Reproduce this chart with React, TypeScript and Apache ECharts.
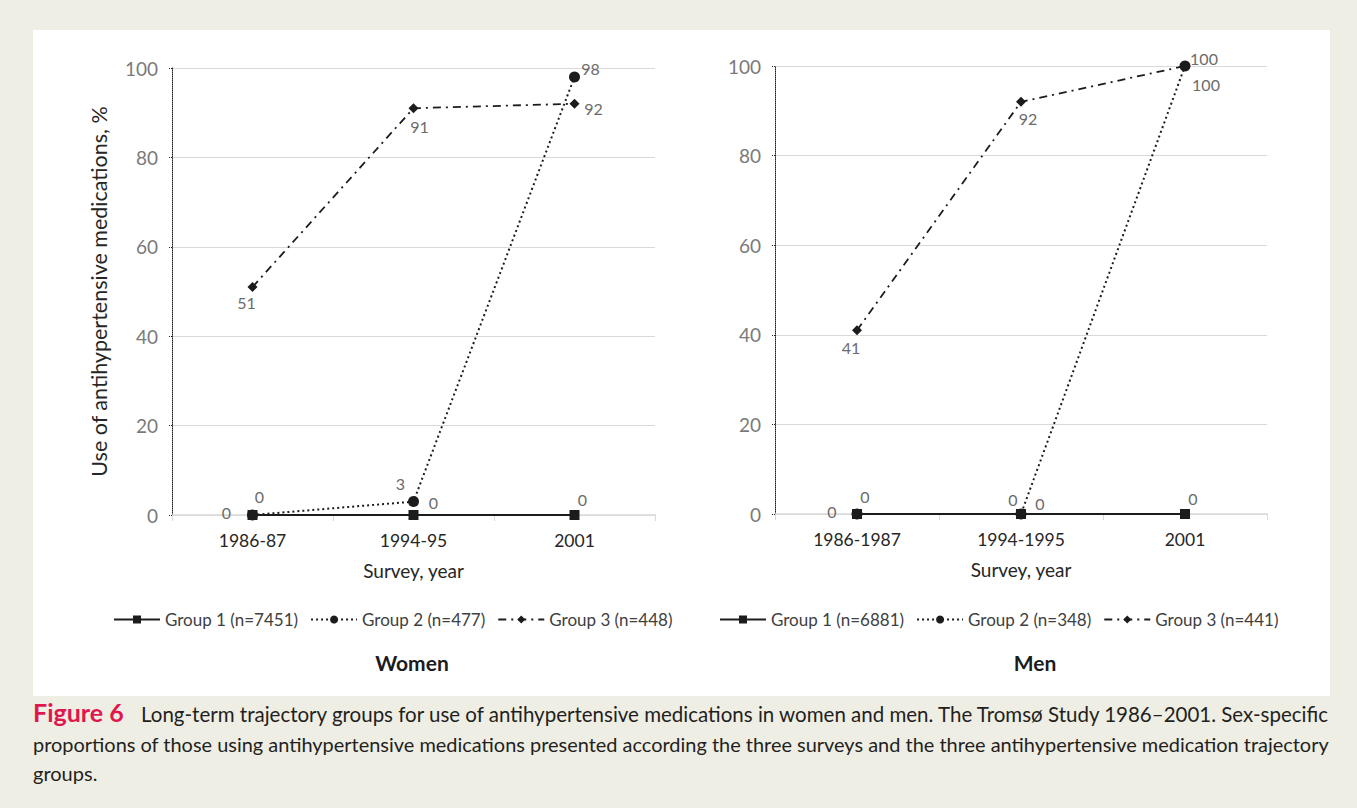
import React, { useEffect, useRef } from "react";
import * as echarts from "echarts";

const categoriesWomen = ["1986-87", "1994-95", "2001"];
const categoriesMen = ["1986-1987", "1994-1995", "2001"];

const womenGroup1 = [0, 0, 0];
const womenGroup2 = [0, 3, 98];
const womenGroup3 = [51, 91, 92];

const menGroup1 = [0, 0, 0];
const menGroup2 = [0, 0, 100];
const menGroup3 = [41, 92, 100];

const womenNames = ["Group 1 (n=7451)", "Group 2 (n=477)", "Group 3 (n=448)"];
const menNames = ["Group 1 (n=6881)", "Group 2 (n=348)", "Group 3 (n=441)"];

const yMin = 0;
const yMax = 100;
const yInterval = 20;

const yAxisTitle = "Use of antihypertensive medications, %";
const xAxisTitle = "Survey, year";
const panelTitles = ["Women", "Men"];
const figureLabel = "Figure 6";
const captionLines = [
  "Long-term trajectory groups for use of antihypertensive medications in women and men. The Tromsø Study 1986–2001. Sex-specific",
  "proportions of those using antihypertensive medications presented according the three surveys and the three antihypertensive medication trajectory",
  "groups.",
];

// label offsets (style only)
const womenOffsets = [
  [[-26, -3], [20, -13], [8, -16]],
  [[7, -19], [-13, -18], [16, -8]],
  [[-6, 15], [6, 18], [19, 5]],
];
const menOffsets = [
  [[-25, -3], [19, -11], [8, -16]],
  [[8, -18], [-8, -15], [19, -8]],
  [[-6, 17], [7, 17], [21, 18]],
];

const FONT = "Lato";
const INK = "#1c1c1c";

const lineStyles = [
  { type: "solid", width: 2.2 },
  { type: [2, 3], width: 2 },
  { type: [8, 5, 2, 5], width: 1.8 },
];
const symbols = ["rect", "circle", "diamond"];
const symbolSizes = [10, 11, 10];
const zs = [5, 4, 3];

function makeSeries(names: string[], groups: number[][], offsets: number[][][], axisIndex: number) {
  return groups.map((vals, g) => ({
    type: "line",
    name: names[g],
    xAxisIndex: axisIndex,
    yAxisIndex: axisIndex,
    symbol: symbols[g],
    symbolSize: symbolSizes[g],
    z: zs[g],
    itemStyle: { color: INK },
    lineStyle: { color: INK, ...lineStyles[g] },
    label: {
      show: true,
      position: "inside",
      color: "#6b6b6b",
      fontSize: 16,
      fontFamily: FONT,
    },
    data: vals.map((v, i) => ({ value: v, label: { offset: offsets[g][i] } })),
  }));
}

export default function App() {
  const ref = useRef<HTMLDivElement>(null);
  useEffect(() => {
    document.body.style.margin = "0";
    const chart = echarts.init(ref.current!, null, { renderer: "svg" });
    const xAxisCommon = {
      type: "category",
      boundaryGap: true,
      axisLine: { lineStyle: { color: "#d9d9d9", width: 1.5 } },
      axisTick: { show: true, length: 6, lineStyle: { color: "#d9d9d9" } },
      axisLabel: { color: "#262626", fontSize: 17.5, fontFamily: FONT, margin: 16 },
      name: xAxisTitle,
      nameLocation: "middle",
      nameGap: 46,
      nameTextStyle: { color: "#262626", fontSize: 19, fontFamily: FONT },
    };
    const yAxisCommon = {
      type: "value",
      min: yMin,
      max: yMax,
      interval: yInterval,
      axisLine: { show: true, lineStyle: { color: "#222", type: [1, 1], width: 1 } },
      axisTick: { show: true, length: 4, lineStyle: { color: "#222", type: [1, 1] } },
      axisLabel: { color: "#7a7a7a", fontSize: 19, fontFamily: FONT, margin: 14 },
      splitLine: { lineStyle: { color: "#d9d9d9", width: 1 } },
    };
    const legendCommon = {
      top: 606,
      itemWidth: 46,
      itemHeight: 10,
      itemGap: 12,
      textStyle: { color: "#404040", fontSize: 17, fontFamily: FONT },
    };
    const captionText = (text: string, x: number, y: number, size: number) => ({
      type: "text",
      x,
      y,
      style: {
        text,
        fill: "#231f20",
        font: `${size}px ${FONT}`,
        textVerticalAlign: "middle",
      },
    });
    const option = {
      animation: false,
      backgroundColor: "#efeee5",
      textStyle: { fontFamily: FONT },
      grid: [
        { left: 172, top: 68, width: 483, height: 447 },
        { left: 775, top: 66, width: 492, height: 448 },
      ],
      xAxis: [
        { ...xAxisCommon, gridIndex: 0, data: categoriesWomen },
        { ...xAxisCommon, gridIndex: 1, data: categoriesMen },
      ],
      yAxis: [
        {
          ...yAxisCommon,
          gridIndex: 0,
          name: yAxisTitle,
          nameLocation: "middle",
          nameRotate: 90,
          nameGap: 62,
          nameTextStyle: { color: "#262626", fontSize: 21.5, fontFamily: FONT },
        },
        { ...yAxisCommon, gridIndex: 1 },
      ],
      legend: [
        { ...legendCommon, data: womenNames, left: 108 },
        { ...legendCommon, data: menNames, left: 714 },
      ],
      graphic: [
        {
          type: "rect",
          z: -10,
          silent: true,
          shape: { x: 33, y: 30, width: 1297, height: 666 },
          style: { fill: "#ffffff" },
        },
        {
          type: "text",
          x: 412,
          y: 662,
          style: {
            text: panelTitles[0],
            fill: "#1c1c1c",
            font: `bold 21px ${FONT}`,
            textAlign: "center",
            textVerticalAlign: "middle",
          },
        },
        {
          type: "text",
          x: 1035,
          y: 662,
          style: {
            text: panelTitles[1],
            fill: "#1c1c1c",
            font: `bold 21px ${FONT}`,
            textAlign: "center",
            textVerticalAlign: "middle",
          },
        },
        {
          type: "text",
          x: 33,
          y: 712,
          style: {
            text: figureLabel,
            fill: "#e0174f",
            font: `bold 25px ${FONT}`,
            textVerticalAlign: "middle",
          },
        },
        captionText(captionLines[0], 141, 714, 20.5),
        captionText(captionLines[1], 33, 744, 19.95),
        captionText(captionLines[2], 33, 773, 20),
      ],
      series: [
        ...makeSeries(womenNames, [womenGroup1, womenGroup2, womenGroup3], womenOffsets, 0),
        ...makeSeries(menNames, [menGroup1, menGroup2, menGroup3], menOffsets, 1),
      ],
    };
    chart.setOption(option as any);
    return () => chart.dispose();
  }, []);
  return <div ref={ref} style={{ width: 1357, height: 808 }} />;
}
